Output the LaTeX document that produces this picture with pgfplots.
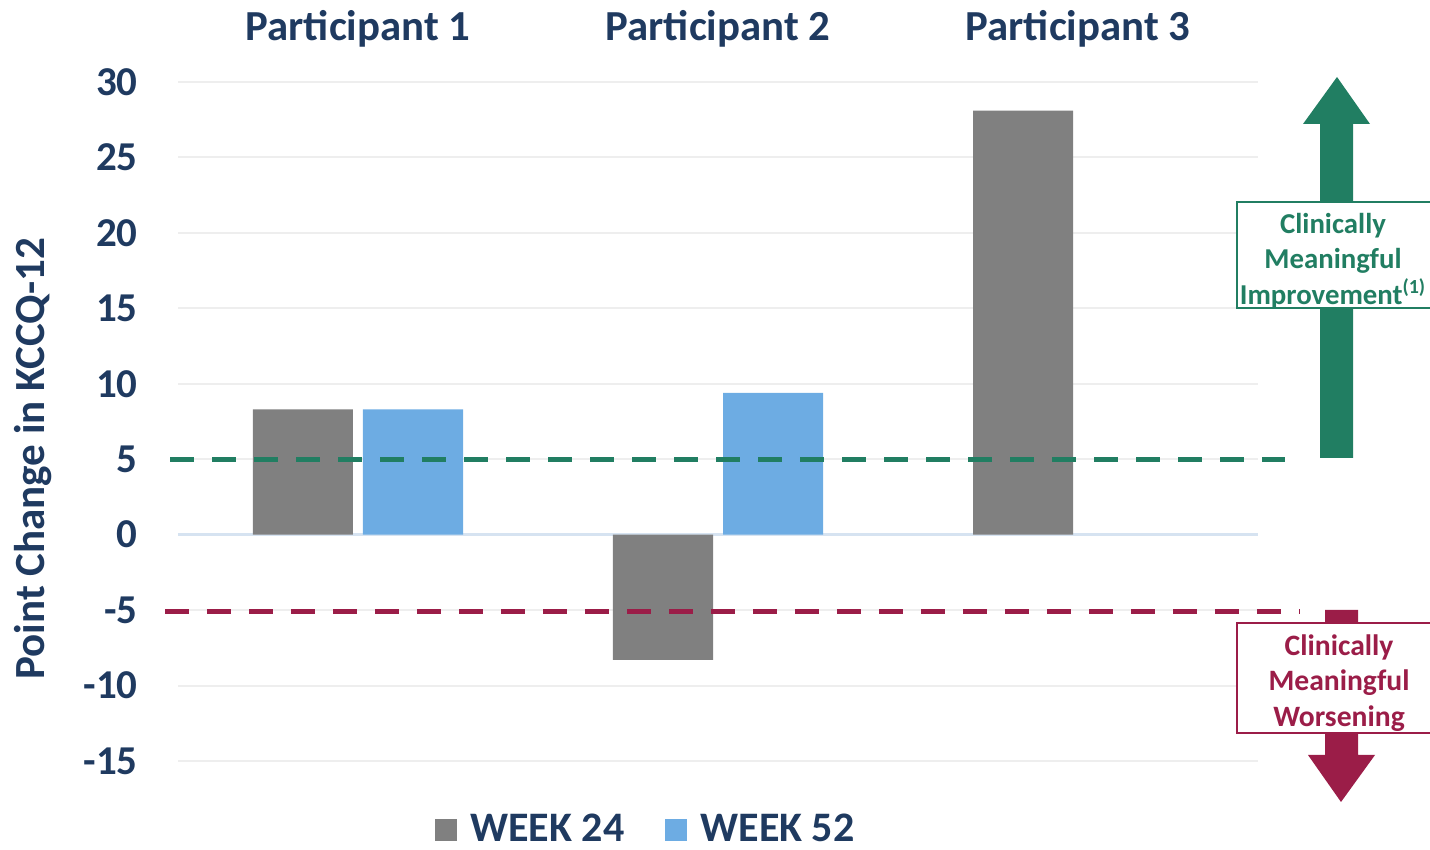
\documentclass[border=0pt]{standalone}
\usepackage{pgfplots}
\pgfplotsset{compat=1.18}
\usepackage{fontspec}
\setmainfont{Carlito}
\definecolor{navy}{HTML}{1F3A60}
\definecolor{wkgray}{HTML}{808080}
\definecolor{wkblue}{HTML}{6DACE3}
\definecolor{cmgreen}{HTML}{217E62}
\definecolor{cmred}{HTML}{9B1D48}
\definecolor{gridgray}{HTML}{EEEEEE}
\definecolor{zeroblue}{HTML}{D6E3F1}
\begin{document}
\begin{tikzpicture}
\useasboundingbox (0,0) rectangle (715pt,425pt);
\clip (0,0) rectangle (715pt,425pt);
\begin{axis}[
  at={(89pt,44.5pt)}, anchor=south west,
  scale only axis, width=540pt, height=339.5pt,
  xmin=-0.5, xmax=2.5, ymin=-15, ymax=30,
  ytick={-15,-10,...,30},
  xtick={0,1,2},
  xticklabels={Participant 1,Participant 2,Participant 3},
  xticklabel pos=upper,
  axis line style={draw=none},
  major tick length=0pt,
  ymajorgrids, grid style={color=gridgray, line width=1pt},
  extra y ticks={0}, extra y tick labels={},
  extra y tick style={grid style={color=zeroblue, line width=1.2pt}},
  /pgf/number format/assume math mode=true,
  yticklabel style={font=\fontsize{20.5}{24}\selectfont\bfseries, text=navy, anchor=east, inner sep=0pt, xshift=-20pt},
  xticklabel style={font=\fontsize{21.4}{25}\selectfont\bfseries, text=navy, anchor=south, inner sep=0pt, yshift=17pt},
  ylabel={Point Change in KCCQ-12},
  every axis y label/.style={at={(axis description cs:-0.134,0.445)}, rotate=90, anchor=center, font=\fontsize{21.5}{25}\selectfont\bfseries, text=navy},
  ybar, bar width=50pt,
  clip=false,
  legend style={draw=none, fill=none, at={(axis description cs:0.2324,-0.101)}, anchor=west, legend columns=2,
    font=\fontsize{21}{25}\selectfont\bfseries, text=navy,
    /tikz/every odd column/.append style={column sep=4.5pt},
    /tikz/every even column/.append style={column sep=18.5pt}},
  legend image code/.code={\fill[#1] (0pt,-5.5pt) rectangle (11pt,5.5pt);},
]
\addplot[fill=wkgray, draw=none, bar shift=-27.5pt] coordinates {(0,8.3) (1,-8.3) (2,28.1)};
\addlegendentry{WEEK 24}
\addplot[fill=wkblue, draw=none, bar shift=27.5pt] coordinates {(0,8.3) (1,9.4)};
\addlegendentry{WEEK 52}
\draw[cmgreen, line width=2.5pt, dash pattern=on 12pt off 9pt] (axis cs:-0.522,5) -- (axis cs:2.575,5);
\draw[cmred, line width=2.5pt, dash pattern=on 12pt off 9pt] (axis cs:-0.536,-5.1) -- (axis cs:2.617,-5.1);
\end{axis}
\begin{scope}[x=0.5pt, y=-0.5pt, shift={(0pt,425pt)}]
  \fill[cmgreen] (1320,458) -- (1353,458) -- (1353,124) -- (1370,124) -- (1337,77) -- (1303,124) -- (1320,124) -- cycle;
  \draw[cmgreen, fill=white, line width=0.8pt] (1237,202) rectangle (1441,308);
  \node[align=center, text=cmgreen, font=\fontsize{14.4}{17.6}\selectfont\bfseries] at (1333,261) {Clinically\\Meaningful\\Improvement\textsuperscript{(1)}};
  \fill[cmred] (1325,610) -- (1358,610) -- (1358,755) -- (1375,755) -- (1341,802) -- (1308,755) -- (1325,755) -- cycle;
  \draw[cmred, fill=white, line width=0.8pt] (1237,623) rectangle (1441,733);
  \node[align=center, text=cmred, font=\fontsize{14.8}{17.8}\selectfont\bfseries] at (1339,683) {Clinically\\Meaningful\\Worsening};
\end{scope}
\end{tikzpicture}
\end{document}
